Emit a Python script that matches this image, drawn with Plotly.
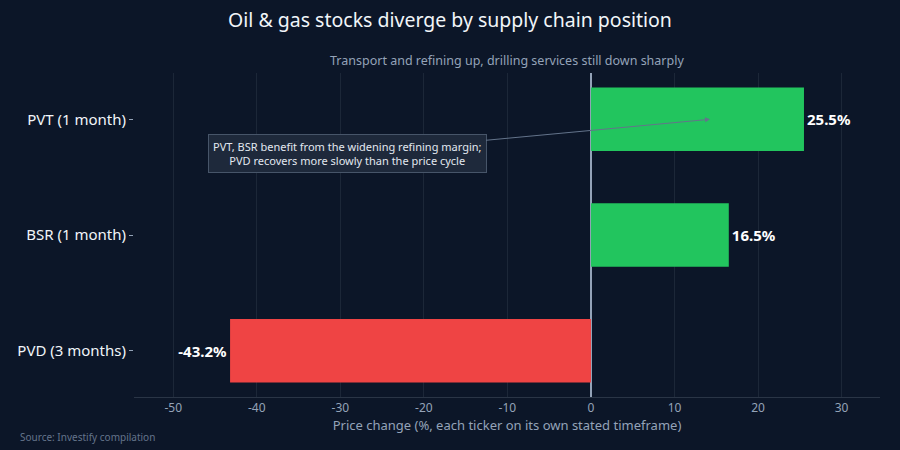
import plotly.graph_objects as go

categories = ["PVD (3 months)", "BSR (1 month)", "PVT (1 month)"]
values = [-43.2, 16.5, 25.5]
labels = ["-43.2%", "16.5%", "25.5%"]
x_ticks = [-50, -40, -30, -20, -10, 0, 10, 20, 30]
x_tick_text = ["-50", "-40", "-30", "-20", "-10", "0", "10", "20", "30"]
colors = ["#ef4444" if v < 0 else "#22c55e" for v in values]

BG = "#0c1628"
FONT = "Noto Sans"

fig = go.Figure(go.Bar(
    x=values, y=categories, orientation="h",
    marker=dict(color=colors, line=dict(width=0)),
    text=labels, textposition="outside",
    textfont=dict(family=FONT, size=15, color="#ffffff", weight="bold"),
    cliponaxis=False, width=0.55,
))

fig.update_layout(
    width=900, height=450,
    paper_bgcolor=BG, plot_bgcolor=BG,
    margin=dict(l=134, r=20, t=73, b=53),
    font=dict(family=FONT, color="#94a3b8"),
    showlegend=False,
    title=dict(text="Oil & gas stocks diverge by supply chain position",
               x=0.5, xanchor="center", y=0.955, yanchor="middle",
               font=dict(family=FONT, size=19.5, color="#f1f5f9")),
    xaxis=dict(range=[-54.7, 34.6], tickvals=x_ticks, ticktext=x_tick_text,
               showgrid=True, gridcolor="#1c2738", gridwidth=1,
               zeroline=True, zerolinecolor="#94a3b8", zerolinewidth=1.5,
               showline=True, linecolor="#2a3546", linewidth=1,
               tickfont=dict(family=FONT, size=12, color="#94a3b8"),
               title=dict(text="Price change (%, each ticker on its own stated timeframe)",
                          font=dict(family=FONT, size=13, color="#94a3b8"), standoff=4)),
    yaxis=dict(range=[-0.4, 2.4], showgrid=False, zeroline=False,
               ticks="outside", ticklen=4, tickcolor="#94a3b8",
               tickfont=dict(family=FONT, size=15, color="#f1f5f9")),
    annotations=[
        dict(text="Transport and refining up, drilling services still down sharply",
             xref="paper", yref="paper", x=0.5, y=1.0, yshift=13,
             xanchor="center", yanchor="middle", showarrow=False,
             font=dict(family=FONT, size=12.5, color="#94a3b8")),
        dict(text="PVT, BSR benefit from the widening refining margin;<br>PVD recovers more slowly than the price cycle",
             x=14.25, y="PVT (1 month)", xref="x", yref="y",
             ax=-363, ay=34, showarrow=True, arrowhead=2, arrowsize=1,
             arrowwidth=1, arrowcolor="#64748b",
             bgcolor="#1e293b", bordercolor="#475569", borderwidth=1, borderpad=4,
             font=dict(family=FONT, size=11, color="#e2e8f0")),
        dict(text="Source: Investify compilation", xref="paper", yref="paper",
             x=-134/746, y=0, yshift=-40, xshift=18, xanchor="left", yanchor="middle",
             showarrow=False, font=dict(family=FONT, size=10, color="#64748b")),
    ],
)

fig.write_html("out.html", config={"displayModeBar": False},
               post_script="document.body.style.margin='0';document.body.style.background='" + BG + "';")
